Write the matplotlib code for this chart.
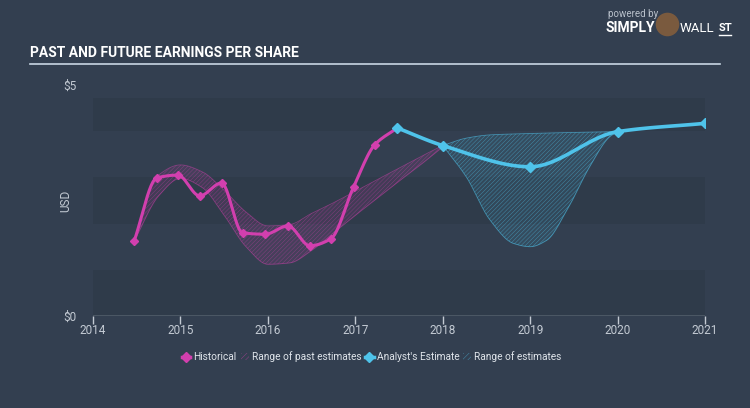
import numpy as np
import matplotlib
matplotlib.use('Agg')
import matplotlib.pyplot as plt
from matplotlib.lines import Line2D
from matplotlib.patches import Patch

# historical EPS
hist_x = [2014.47, 2014.73, 2014.97, 2015.22, 2015.47, 2015.71, 2015.97,
          2016.23, 2016.48, 2016.72, 2016.98, 2017.22, 2017.48]
hist_y = [1.62, 2.99, 3.05, 2.60, 2.88, 1.80, 1.77, 1.95, 1.52, 1.67, 2.79, 3.70, 4.07]

# analyst estimates
est_x = [2017.48, 2018.0, 2019.0, 2020.0, 2021.0]
est_y = [4.07, 3.69, 3.23, 3.99, 4.17]

# range of past estimates
past_x = [2014.47, 2014.75, 2015.0, 2015.25, 2015.5, 2015.75, 2016.0, 2016.25,
          2016.5, 2016.75, 2017.0, 2017.25, 2017.5, 2017.75, 2018.0]
past_hi = [1.62, 3.05, 3.27, 3.12, 2.72, 2.25, 1.95, 1.98, 2.22, 2.45, 2.70, 2.95,
           3.20, 3.45, 3.69]
past_lo = [1.62, 2.60, 2.98, 2.78, 2.18, 1.50, 1.12, 1.15, 1.42, 1.80, 2.18, 2.55,
           2.92, 3.28, 3.66]

# range of future estimates
rng_x = [2018.0, 2018.27, 2018.54, 2018.81, 2019.0, 2019.19, 2019.42, 2019.68, 2019.91, 2020.0]
rng_hi = [3.69, 3.85, 3.92, 3.94, 3.95, 3.96, 3.97, 3.98, 3.99, 3.99]
rng_lo = [3.69, 3.01, 2.08, 1.57, 1.50, 1.64, 2.29, 3.23, 3.88, 3.99]

years = list(range(2014, 2022))

BG = '#333f50'
PINK = '#d23fae'
BLUE = '#4fc3ea'
GREY = '#c3cad3'


def smooth(x, y, n=24):
    # monotone cubic path, just for drawing the curves
    x = np.asarray(x, float)
    y = np.asarray(y, float)
    h = np.diff(x)
    d = np.diff(y) / h
    m = np.zeros_like(y)
    m[0], m[-1] = d[0], d[-1]
    for i in range(1, len(y) - 1):
        if d[i - 1] * d[i] > 0:
            w1 = 2 * h[i] + h[i - 1]
            w2 = h[i] + 2 * h[i - 1]
            m[i] = (w1 + w2) / (w1 / d[i - 1] + w2 / d[i])
    xs, ys = [], []
    for i in range(len(h)):
        t = np.linspace(0, 1, n, endpoint=(i == len(h) - 1))
        h00 = 2 * t**3 - 3 * t**2 + 1
        h10 = t**3 - 2 * t**2 + t
        h01 = -2 * t**3 + 3 * t**2
        h11 = t**3 - t**2
        xs.append(x[i] + t * h[i])
        ys.append(h00 * y[i] + h10 * h[i] * m[i] + h01 * y[i + 1] + h11 * h[i] * m[i + 1])
    return np.concatenate(xs), np.concatenate(ys)


plt.rcParams['font.family'] = ['Roboto', 'DejaVu Sans']
plt.rcParams['hatch.linewidth'] = 0.35

fig = plt.figure(figsize=(7.5, 4.08), dpi=100, facecolor=BG)
ax = fig.add_axes([93 / 750, 1 - 316 / 408, 612 / 750, 231 / 408])
ax.set_facecolor(BG)
ax.set_xlim(2014, 2021)
ax.set_ylim(0, 5)

# subtle bands
for k, c in enumerate(['#2f3b4a', '#333f50', '#2f3b4a', '#333f50', '#2f3b4a']):
    ax.axhspan(k, min(k + 1, 4.72), color=c, lw=0, zorder=0)

# ranges
px, ph = smooth(past_x, past_hi)
_, pl = smooth(past_x, past_lo)
ax.fill_between(px, pl, ph, color=PINK, alpha=0.12, lw=0, zorder=1)
ax.fill_between(px, pl, ph, facecolor='none', edgecolor=PINK, hatch='////////',
                lw=0, alpha=0.45, zorder=1)
ax.plot(px, ph, color=PINK, lw=0.6, alpha=0.5, zorder=1)
ax.plot(px, pl, color=PINK, lw=0.6, alpha=0.5, zorder=1)

rx, rh = smooth(rng_x, rng_hi)
_, rl = smooth(rng_x, rng_lo)
ax.fill_between(rx, rl, rh, color=BLUE, alpha=0.1, lw=0, zorder=1)
ax.fill_between(rx, rl, rh, facecolor='none', edgecolor=BLUE, hatch='////////',
                lw=0, alpha=0.55, zorder=1)
ax.plot(rx, rh, color=BLUE, lw=0.6, alpha=0.6, zorder=1)
ax.plot(rx, rl, color=BLUE, lw=0.6, alpha=0.6, zorder=1)

# lines
sx, sy = smooth(hist_x, hist_y, 12)
ax.plot(sx, sy, color=PINK, lw=2.2, zorder=3, solid_capstyle='round')
ax.plot(hist_x, hist_y, 'D', color=PINK, ms=4.5, zorder=4)

ex, ey = smooth(est_x, est_y)
ax.plot(ex, ey, color=BLUE, lw=2.6, zorder=3, solid_capstyle='round')
ax.plot(est_x, est_y, 'D', color=BLUE, ms=5, zorder=4)

# axes styling
for s in ax.spines.values():
    s.set_visible(False)
ax.axhline(0, color=GREY, lw=1, zorder=2)
ax.set_xticks(years)
ax.set_xticklabels([str(y) for y in years])
ax.set_yticks([0, 5])
ax.set_yticklabels(['$0', '$5'])
ax.tick_params(axis='x', colors=GREY, length=6, width=1, pad=0, labelsize=8.5)
ax.tick_params(axis='y', colors=GREY, length=0, pad=12, labelsize=8.5)
ax.set_ylabel('USD', color=GREY, fontsize=8.5)
ax.yaxis.set_label_coords(-0.034, 0.5)

# title and header
fig.text(30 / 750, 1 - 53 / 408, 'PAST AND FUTURE EARNINGS PER SHARE', color='white',
         fontsize=10, fontweight='bold', family=['Roboto', 'DejaVu Sans'], va='center')
fig.add_artist(Line2D([30 / 750, 720 / 750], [1 - 64 / 408] * 2, color='#c8d6e3', lw=1.2))
fig.text(608 / 750, 1 - 14 / 408, 'powered by', color='#b9c1cb', fontsize=7, va='center')
fig.text(606 / 750, 1 - 28 / 408, 'SIMPLY', color='white', fontsize=10, fontweight='bold',
         va='center')
fig.text(680 / 750, 1 - 28 / 408, 'WALL', color='white', fontsize=9.5, va='center')
fig.text(719 / 750, 1 - 28 / 408, 'ST', color='white', fontsize=8, fontweight='bold',
         va='center')
fig.add_artist(Line2D([719 / 750, 731 / 750], [1 - 35 / 408] * 2, color='white', lw=1))
fig.add_artist(Line2D([667 / 750], [1 - 24 / 408], marker='o', ms=17, color='#7a5a3e',
                      markeredgewidth=0))

# legend
handles = [
    Line2D([], [], color=PINK, lw=2.5, marker='D', ms=5),
    Patch(facecolor='none', edgecolor=PINK, hatch='//////', lw=0, alpha=0.6),
    Line2D([], [], color=BLUE, lw=2.5, marker='D', ms=5),
    Patch(facecolor='none', edgecolor=BLUE, hatch='//////', lw=0, alpha=0.6),
]
labels = ['Historical', 'Range of past estimates', "Analyst's Estimate", 'Range of estimates']
leg = fig.legend(handles, labels, loc='center', bbox_to_anchor=(372 / 750, 1 - 357 / 408),
                 ncol=4, frameon=False, fontsize=7.3, handlelength=0.8, handleheight=0.7,
                 handletextpad=0.3, columnspacing=0.4)
for t in leg.get_texts():
    t.set_color('#dfe4ea')

fig.savefig('out.png', dpi=100, facecolor=BG)
